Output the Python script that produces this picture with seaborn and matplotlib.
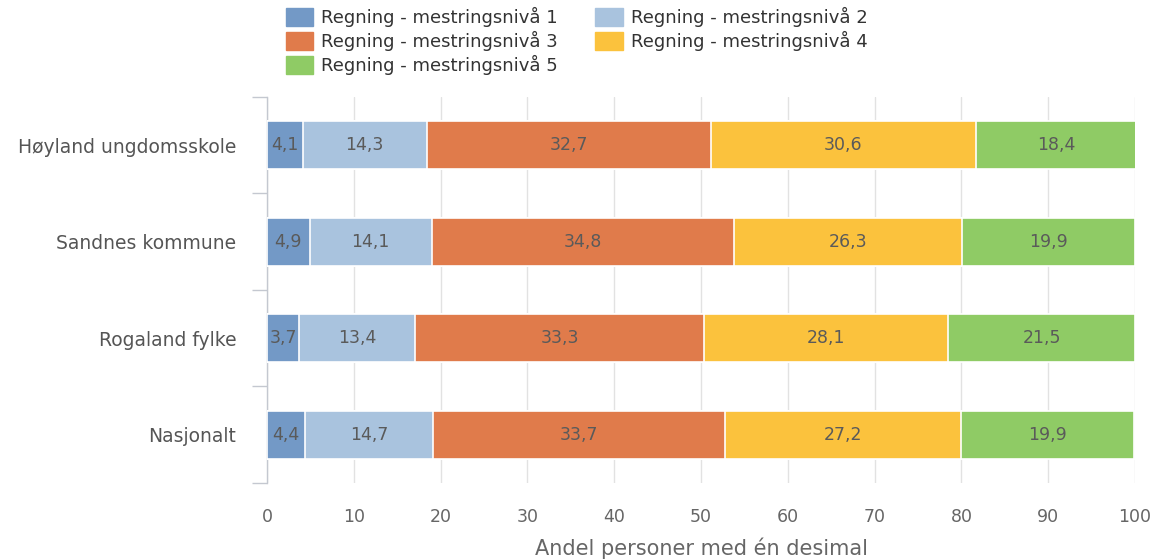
import matplotlib
matplotlib.use("Agg")
import matplotlib.pyplot as plt
import matplotlib.patches as mpatches
import numpy as np
import pandas as pd
import seaborn as sns

categories = ["Høyland ungdomsskole", "Sandnes kommune", "Rogaland fylke", "Nasjonalt"]
series_names = ["Regning - mestringsnivå 1", "Regning - mestringsnivå 2",
                "Regning - mestringsnivå 3", "Regning - mestringsnivå 4",
                "Regning - mestringsnivå 5"]
level1 = [4.1, 4.9, 3.7, 4.4]
level2 = [14.3, 14.1, 13.4, 14.7]
level3 = [32.7, 34.8, 33.3, 33.7]
level4 = [30.6, 26.3, 28.1, 27.2]
level5 = [18.4, 19.9, 21.5, 19.9]
colors = ["#7399c6", "#a9c3de", "#e07b4b", "#fbc23d", "#8fcb65"]
x_ticks = [0, 10, 20, 30, 40, 50, 60, 70, 80, 90, 100]

sns.set_theme(style="white")
plt.rcParams['font.family'] = ['DejaVu Sans']

levels = [level1, level2, level3, level4, level5]
vals = np.array(levels)
cum = np.cumsum(vals, axis=0)

fig = plt.figure(figsize=(11.61, 5.59), dpi=100)
ax = fig.add_axes([0.230, 0.136, 0.7476, 0.6905])

# draw cumulative bars from top level down
for i in range(4, -1, -1):
    df = pd.DataFrame({"cat": categories, "val": cum[i]})
    sns.barplot(data=df, x="val", y="cat", orient="h", color=colors[i],
                width=0.5, edgecolor="white", linewidth=1.2, ax=ax,
                saturation=1, zorder=3)

# value labels
for j, cat in enumerate(categories):
    for i in range(5):
        start = cum[i][j] - vals[i][j]
        mid = start + vals[i][j] / 2
        ax.text(mid, j, f"{vals[i][j]:.1f}".replace(".", ","), ha="center",
                va="center", fontsize=12.5, color="#5a5a5a", zorder=5)

ax.set_xlim(0, 100)
ax.set_ylim(3.5, -0.5)
ax.set_xticks(x_ticks)
ax.set_xticklabels([str(t) for t in x_ticks])
ax.xaxis.grid(True, color="#e2e2e2", linewidth=1, zorder=0)
ax.set_axisbelow(True)
ax.tick_params(axis="x", length=0, pad=18, labelsize=12.5, labelcolor="#666666")
ax.tick_params(axis="y", which="major", left=False, length=0, pad=22,
               labelsize=13.5, labelcolor="#555555")
ax.set_yticks(np.arange(-0.5, 4.0, 1.0), minor=True)
ax.tick_params(axis="y", which="minor", left=True, length=11, width=1,
               color="#c4c8d0")
ax.set_xlabel("Andel personer med én desimal", fontsize=15, color="#666666",
              labelpad=8)
ax.set_ylabel("")
for s in ["top", "right", "bottom"]:
    ax.spines[s].set_visible(False)
ax.spines["left"].set_color("#c4c8d0")
ax.spines["left"].set_linewidth(1)

order = [0, 2, 4, 1, 3]
handles = [mpatches.Patch(color=colors[i], label=series_names[i]) for i in order]
fig.legend(handles=handles, ncol=2, loc="upper left",
           bbox_to_anchor=(0.232, 1.016), frameon=False, fontsize=13,
           handlelength=1.5, handleheight=1.15, handletextpad=0.45,
           columnspacing=2.1, labelspacing=0.22, labelcolor="#333333")

fig.savefig("out.png", dpi=100)
